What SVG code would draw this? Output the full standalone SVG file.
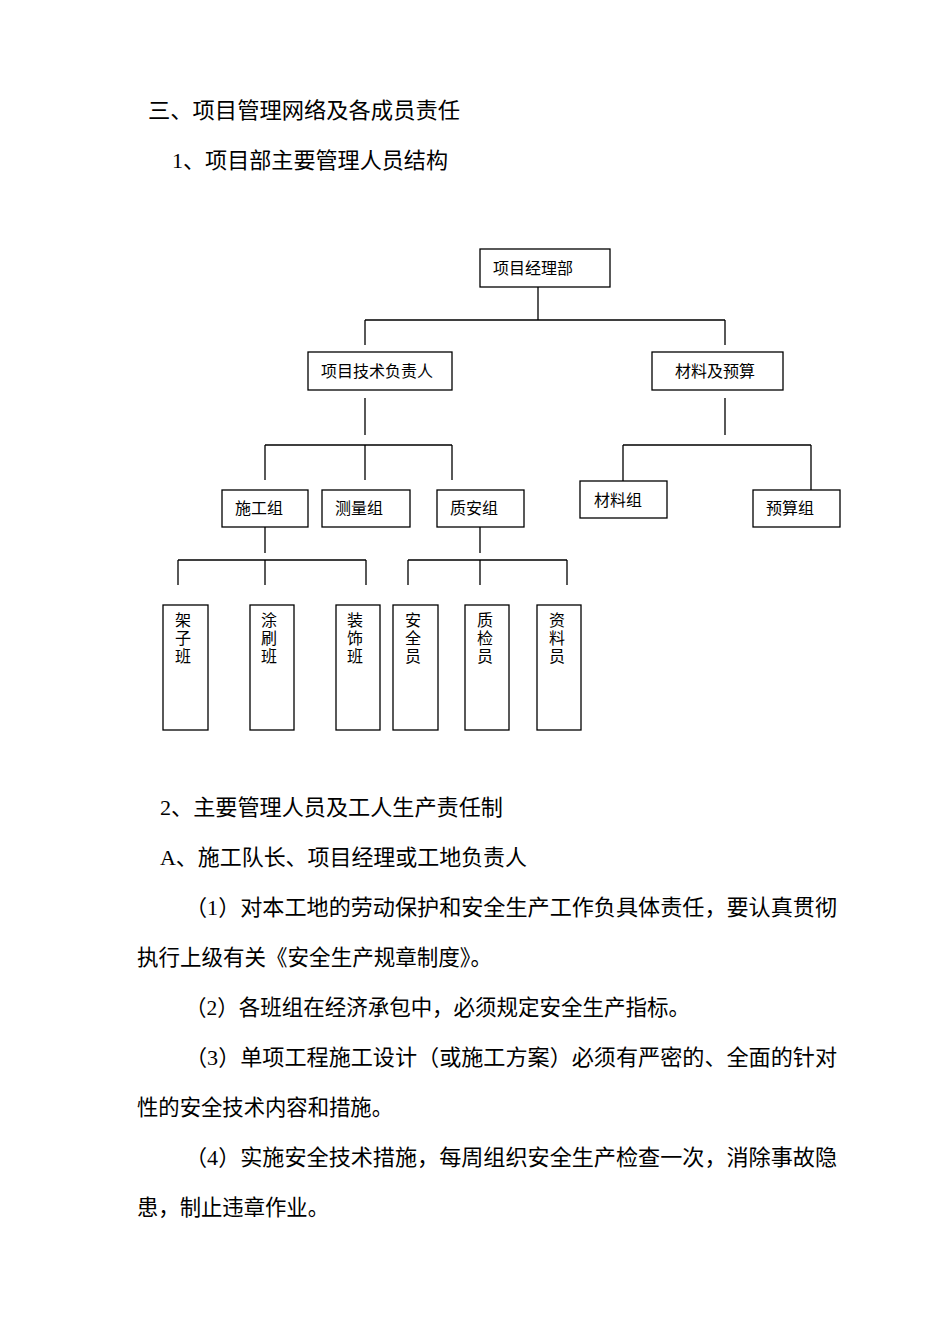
<svg xmlns="http://www.w3.org/2000/svg" width="950" height="1344" viewBox="0 0 950 1344">
<style>
text{font-family:"Liberation Serif","Noto Sans CJK SC",serif;fill:#000}
.h{font-size:22px}
.n{font-size:16px}
.v{font-size:16px;text-anchor:middle}
rect{fill:#fff;stroke:#000;stroke-width:1.3}
.c path{fill:none;stroke:#000;stroke-width:1.3}
</style>
<rect x="0" y="0" width="950" height="1344" style="stroke:none"/>
<text class="h" x="148" y="118" textLength="312" lengthAdjust="spacingAndGlyphs">三、项目管理网络及各成员责任</text>
<text class="h" x="172" y="168" textLength="276" lengthAdjust="spacingAndGlyphs">1、项目部主要管理人员结构</text>
<g class="c">
<path d="M538 287V320M365 320H725M365 320V345M725 320V345"/>
<path d="M365 398V435M265 445H452M265 445V480M365 445V480M452 445V480"/>
<path d="M725 398V435M623 445H811M623 445V481M811 445V490"/>
<path d="M265 527V553M178 560H366M178 560V585M265 560V585M366 560V585"/>
<path d="M480 527V553M408 560H567M408 560V585M480 560V585M567 560V585"/>
</g>
<g id="n1"><rect x="480" y="249" width="130" height="38"/><text class="n" x="493" y="274">项目经理部</text></g>
<g id="n2"><rect x="308" y="352" width="144" height="38"/><text class="n" x="321" y="377">项目技术负责人</text></g>
<g id="n3"><rect x="652" y="352" width="131" height="38"/><text class="n" x="675" y="377">材料及预算</text></g>
<g id="n4"><rect x="222" y="490" width="86" height="37"/><text class="n" x="235" y="514">施工组</text></g>
<g id="n5"><rect x="322" y="490" width="88" height="37"/><text class="n" x="335" y="514">测量组</text></g>
<g id="n6"><rect x="437" y="490" width="87" height="37"/><text class="n" x="450" y="514">质安组</text></g>
<g id="n7"><rect x="580" y="481" width="87" height="37"/><text class="n" x="594" y="506">材料组</text></g>
<g id="n8"><rect x="753" y="490" width="87" height="37"/><text class="n" x="766" y="514">预算组</text></g>
<g id="n9"><rect x="163" y="605" width="45" height="125"/><text class="v" x="183" y="626">架</text><text class="v" x="183" y="644">子</text><text class="v" x="183" y="662">班</text></g>
<g id="n10"><rect x="250" y="605" width="44" height="125"/><text class="v" x="269" y="626">涂</text><text class="v" x="269" y="644">刷</text><text class="v" x="269" y="662">班</text></g>
<g id="n11"><rect x="336" y="605" width="44" height="125"/><text class="v" x="355" y="626">装</text><text class="v" x="355" y="644">饰</text><text class="v" x="355" y="662">班</text></g>
<g id="n12"><rect x="393" y="605" width="45" height="125"/><text class="v" x="413" y="626">安</text><text class="v" x="413" y="644">全</text><text class="v" x="413" y="662">员</text></g>
<g id="n13"><rect x="465" y="605" width="44" height="125"/><text class="v" x="485" y="626">质</text><text class="v" x="485" y="644">检</text><text class="v" x="485" y="662">员</text></g>
<g id="n14"><rect x="537" y="605" width="44" height="125"/><text class="v" x="557" y="626">资</text><text class="v" x="557" y="644">料</text><text class="v" x="557" y="662">员</text></g>
<text class="h" x="160" y="815" textLength="343" lengthAdjust="spacingAndGlyphs">2、主要管理人员及工人生产责任制</text>
<text class="h" x="160" y="865" textLength="367" lengthAdjust="spacingAndGlyphs">A、施工队长、项目经理或工地负责人</text>
<text class="h" x="185" y="915" textLength="652" lengthAdjust="spacingAndGlyphs">（1）对本工地的劳动保护和安全生产工作负具体责任，要认真贯彻</text>
<text class="h" x="137" y="965" textLength="355" lengthAdjust="spacingAndGlyphs">执行上级有关《安全生产规章制度》。</text>
<text class="h" x="185" y="1015" textLength="505" lengthAdjust="spacingAndGlyphs">（2）各班组在经济承包中，必须规定安全生产指标。</text>
<text class="h" x="185" y="1065" textLength="652" lengthAdjust="spacingAndGlyphs">（3）单项工程施工设计（或施工方案）必须有严密的、全面的针对</text>
<text class="h" x="137" y="1115" textLength="256" lengthAdjust="spacingAndGlyphs">性的安全技术内容和措施。</text>
<text class="h" x="185" y="1165" textLength="652" lengthAdjust="spacingAndGlyphs">（4）实施安全技术措施，每周组织安全生产检查一次，消除事故隐</text>
<text class="h" x="137" y="1215" textLength="192" lengthAdjust="spacingAndGlyphs">患，制止违章作业。</text>
</svg>
